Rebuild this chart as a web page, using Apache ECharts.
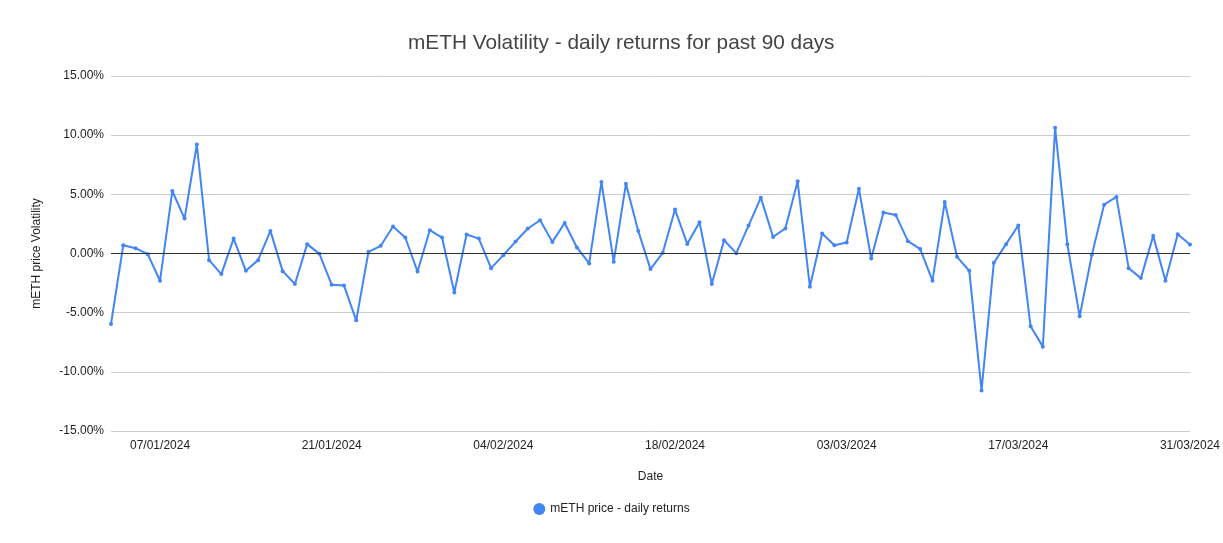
<!DOCTYPE html>
<html>
<head>
<meta charset="utf-8">
<script src="https://cdn.jsdelivr.net/npm/echarts@6/dist/echarts.min.js"></script>
<style>
html,body{margin:0;padding:0;background:#fff;}
#chart{width:1223px;height:543px;}
</style>
</head>
<body>
<div id="chart"></div>
<script>
// Dates (03/01/2024 .. 31/03/2024)
const dates = [
  "03/01/2024","04/01/2024","05/01/2024","06/01/2024","07/01/2024","08/01/2024","09/01/2024","10/01/2024","11/01/2024","12/01/2024",
  "13/01/2024","14/01/2024","15/01/2024","16/01/2024","17/01/2024","18/01/2024","19/01/2024","20/01/2024","21/01/2024","22/01/2024",
  "23/01/2024","24/01/2024","25/01/2024","26/01/2024","27/01/2024","28/01/2024","29/01/2024","30/01/2024","31/01/2024","01/02/2024",
  "02/02/2024","03/02/2024","04/02/2024","05/02/2024","06/02/2024","07/02/2024","08/02/2024","09/02/2024","10/02/2024","11/02/2024",
  "12/02/2024","13/02/2024","14/02/2024","15/02/2024","16/02/2024","17/02/2024","18/02/2024","19/02/2024","20/02/2024","21/02/2024",
  "22/02/2024","23/02/2024","24/02/2024","25/02/2024","26/02/2024","27/02/2024","28/02/2024","29/02/2024","01/03/2024","02/03/2024",
  "03/03/2024","04/03/2024","05/03/2024","06/03/2024","07/03/2024","08/03/2024","09/03/2024","10/03/2024","11/03/2024","12/03/2024",
  "13/03/2024","14/03/2024","15/03/2024","16/03/2024","17/03/2024","18/03/2024","19/03/2024","20/03/2024","21/03/2024","22/03/2024",
  "23/03/2024","24/03/2024","25/03/2024","26/03/2024","27/03/2024","28/03/2024","29/03/2024","30/03/2024","31/03/2024"
];
// Daily returns in %
const dailyReturns = [
  -5.96, 0.70, 0.45, -0.06, -2.30, 5.28, 2.95, 9.21, -0.56, -1.74,
  1.26, -1.46, -0.56, 1.91, -1.49, -2.58, 0.79, -0.03, -2.64, -2.70,
  -5.65, 0.14, 0.65, 2.28, 1.35, -1.52, 1.97, 1.35, -3.29, 1.60,
  1.26, -1.24, -0.14, 1.01, 2.11, 2.81, 0.98, 2.58, 0.51, -0.84,
  6.04, -0.70, 5.90, 1.91, -1.32, 0.06, 3.71, 0.81, 2.64, -2.58,
  1.12, 0.03, 2.36, 4.72, 1.40, 2.11, 6.10, -2.81, 1.69, 0.70,
  0.93, 5.48, -0.42, 3.46, 3.26, 1.04, 0.37, -2.30, 4.35, -0.28,
  -1.46, -11.57, -0.79, 0.79, 2.36, -6.15, -7.87, 10.62, 0.79, -5.31,
  -0.11, 4.13, 4.78, -1.24, -2.08, 1.49, -2.30, 1.63, 0.76
];
const xTickLabels = ["07/01/2024","21/01/2024","04/02/2024","18/02/2024","03/03/2024","17/03/2024","31/03/2024"];
const yTicks = [-15, -10, -5, 0, 5, 10, 15];

const seriesData = dailyReturns.map(v => v / 100);
const FONT = '"Liberation Sans", Arial, sans-serif';

const chart = echarts.init(document.getElementById('chart'), null, {renderer: 'canvas'});
chart.setOption({
  animation: false,
  backgroundColor: '#ffffff',
  title: {
    text: 'mETH Volatility - daily returns for past 90 days',
    left: 403,
    top: 28,
    textStyle: {fontFamily: FONT, fontSize: 20.8, fontWeight: 'normal', color: '#444'}
  },
  grid: {left: 111, right: 27, top: 76, bottom: 112, containLabel: false},
  legend: {
    bottom: 23,
    left: 'center',
    itemWidth: 12,
    itemHeight: 12,
    itemGap: 10,
    icon: 'circle',
    textStyle: {fontFamily: FONT, fontSize: 12, color: '#222'},
    data: ['mETH price - daily returns']
  },
  xAxis: {
    type: 'category',
    data: dates,
    boundaryGap: false,
    name: 'Date',
    nameLocation: 'middle',
    nameGap: 40,
    nameTextStyle: {fontFamily: FONT, fontSize: 12, color: '#222'},
    axisLine: {show: false, onZero: false},
    axisTick: {show: false},
    splitLine: {show: false},
    axisLabel: {
      fontFamily: FONT, fontSize: 12, color: '#222', margin: 9,
      interval: (i, v) => xTickLabels.indexOf(v) >= 0,
      hideOverlap: false
    }
  },
  yAxis: {
    type: 'value',
    min: yTicks[0] / 100,
    max: yTicks[yTicks.length - 1] / 100,
    interval: 0.05,
    name: 'mETH price Volatility',
    nameLocation: 'middle',
    nameGap: 68,
    nameTextStyle: {fontFamily: FONT, fontSize: 12, color: '#222'},
    axisLine: {show: false},
    axisTick: {show: false},
    splitLine: {lineStyle: {color: '#cccccc', width: 1}},
    axisLabel: {
      fontFamily: FONT, fontSize: 12, color: '#222', margin: 7,
      formatter: v => (v * 100).toFixed(2) + '%'
    }
  },
  series: [{
    name: 'mETH price - daily returns',
    type: 'line',
    data: seriesData,
    color: '#4285F4',
    symbol: 'circle',
    symbolSize: 4,
    showSymbol: true,
    lineStyle: {width: 2, color: '#4285F4'},
    itemStyle: {color: '#4285F4'},
    markLine: {
      silent: true,
      symbol: 'none',
      label: {show: false},
      lineStyle: {color: '#333', width: 1, type: 'solid'},
      data: [{yAxis: 0}]
    },
    z: 3
  }]
});
</script>
</body>
</html>
